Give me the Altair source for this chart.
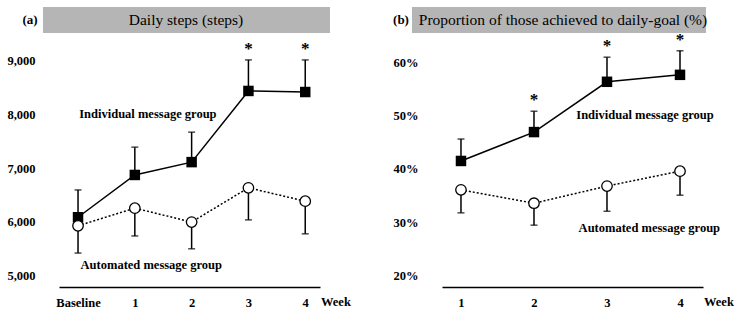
import altair as alt
import pandas as pd

FONT = "Liberation Serif"

# ---- Panel (a): daily steps ----
weeks_a = [0, 1, 2, 3, 4]
a_ind_mean = [6080, 6870, 7110, 8440, 8420]
a_ind_upper = [6590, 7390, 7670, 9020, 9020]
a_auto_mean = [5920, 6250, 5990, 6630, 6380]
a_auto_lower = [5410, 5730, 5490, 6030, 5770]
a_sig = [False, False, False, True, True]
a_ticks = [5000, 6000, 7000, 8000, 9000]

# ---- Panel (b): proportion achieving daily goal (%) ----
weeks_b = [1, 2, 3, 4]
b_ind_mean = [41.5, 46.9, 56.3, 57.6]
b_ind_upper = [45.6, 50.8, 60.9, 62.1]
b_auto_mean = [36.1, 33.6, 36.8, 39.6]
b_auto_lower = [31.8, 29.5, 32.1, 35.1]
b_sig = [False, True, True, True]
b_ticks = [20, 30, 40, 50, 60]

W, H = 261, 248


def panel(weeks, ind_mean, ind_upper, auto_mean, auto_lower, sig,
          ydomain, yticks, ylabel_expr, xdomain, xlabel_expr,
          title, tag, box, title_cx, tag_x, ind_pos, auto_pos):
    ind = pd.DataFrame({"week": weeks, "mean": ind_mean, "bound": ind_upper, "sig": sig})
    auto = pd.DataFrame({"week": weeks, "mean": auto_mean, "bound": auto_lower})

    xs = alt.Scale(domain=xdomain, nice=False, zero=False)
    ys = alt.Scale(domain=ydomain, nice=False, zero=False)
    xax = alt.Axis(values=weeks, labelExpr=xlabel_expr, title=None, domain=True,
                   domainColor="black", domainWidth=1.5, ticks=False, tickSize=0,
                   labelPadding=9, grid=False)
    yax = alt.Axis(values=yticks, labelExpr=ylabel_expr, title=None, domain=False,
                   ticks=False, tickSize=0, labelPadding=24, grid=False)

    X = alt.X("week:Q", scale=xs, axis=xax)
    Y = alt.Y("mean:Q", scale=ys, axis=yax)

    ind_base = alt.Chart(ind)
    auto_base = alt.Chart(auto)

    ind_err = ind_base.mark_rule(color="black", strokeWidth=1.5).encode(
        x=alt.X("week:Q", scale=xs), y=alt.Y("mean:Q", scale=ys), y2="bound:Q")
    ind_cap = ind_base.mark_tick(color="black", orient="horizontal", size=7, thickness=1.5).encode(
        x=alt.X("week:Q", scale=xs), y=alt.Y("bound:Q", scale=ys))
    auto_err = auto_base.mark_rule(color="black", strokeWidth=1.5).encode(
        x=alt.X("week:Q", scale=xs), y=alt.Y("mean:Q", scale=ys), y2="bound:Q")
    auto_cap = auto_base.mark_tick(color="black", orient="horizontal", size=7, thickness=1.5).encode(
        x=alt.X("week:Q", scale=xs), y=alt.Y("bound:Q", scale=ys))

    ind_line = ind_base.mark_line(color="black", strokeWidth=1.5).encode(x=X, y=Y)
    auto_line = auto_base.mark_line(color="black", strokeWidth=1.5, strokeDash=[2, 2]).encode(
        x=alt.X("week:Q", scale=xs), y=alt.Y("mean:Q", scale=ys))
    ind_pts = ind_base.mark_point(shape="square", filled=True, color="black", size=110, opacity=1).encode(
        x=alt.X("week:Q", scale=xs), y=alt.Y("mean:Q", scale=ys))
    auto_pts = auto_base.mark_point(shape="circle", filled=True, fill="white", stroke="black",
                                    strokeWidth=1.3, size=110, opacity=1).encode(
        x=alt.X("week:Q", scale=xs), y=alt.Y("mean:Q", scale=ys))

    stars = ind_base.transform_filter("datum.sig").mark_text(
        text="*", font=FONT, fontSize=17, fontWeight="bold", dy=-11, baseline="middle", color="black"
    ).encode(x=alt.X("week:Q", scale=xs), y=alt.Y("bound:Q", scale=ys))

    labels = alt.Chart(pd.DataFrame({
        "lx": [ind_pos[0], auto_pos[0]],
        "ly": [ind_pos[1], auto_pos[1]],
        "txt": ["Individual  message  group", "Automated  message  group"],
    })).mark_text(font=FONT, fontSize=12.5, fontWeight="bold", baseline="middle", color="black").encode(
        x=alt.X("lx:Q", scale=xs), y=alt.Y("ly:Q", scale=ys), text="txt:N")

    week_lab = alt.Chart(pd.DataFrame({"lx": [xdomain[1]], "t": ["Week"]})).mark_text(
        font=FONT, fontSize=12.5, fontWeight="bold", align="left", baseline="middle", dx=1, color="black"
    ).encode(x=alt.X("lx:Q", scale=xs), y=alt.value(H + 15), text="t:N")

    tb = pd.DataFrame({"t": [title], "tag": [tag]})
    box_mark = alt.Chart(tb).mark_rect(color="#b5b5b5").encode(
        x=alt.value(box[0]), x2=alt.value(box[1]), y=alt.value(-32), y2=alt.value(-6))
    title_txt = alt.Chart(tb).mark_text(font=FONT, fontSize=15.5, color="black",
                                         baseline="middle").encode(
        x=alt.value(title_cx), y=alt.value(-19), text="t:N")
    tag_txt = alt.Chart(tb).mark_text(font=FONT, fontSize=13, fontWeight="bold", color="black",
                                       baseline="middle").encode(
        x=alt.value(tag_x), y=alt.value(-19), text="tag:N")

    return alt.layer(
        ind_line, auto_line, ind_err, ind_cap, auto_err, auto_cap, ind_pts, auto_pts,
        stars, labels, week_lab, box_mark, title_txt, tag_txt
    ).properties(width=W, height=H)


pa = panel(weeks_a, a_ind_mean, a_ind_upper, a_auto_mean, a_auto_lower, a_sig,
           [4776, 9411], a_ticks, "format(datum.value, ',')", [-0.335, 4.26],
           "datum.value == 0 ? 'Baseline' : datum.value",
           "Daily  steps (steps)", "(a)", (-16, 271), 127, -29,
           (1.23, 8000), (1.29, 5187))

pb = panel(weeks_b, b_ind_mean, b_ind_upper, b_auto_mean, b_auto_lower, b_sig,
           [17.94, 64.3], b_ticks, "datum.value + '%'", [0.74, 4.315],
           "datum.value",
           "Proportion of those achieved to daily-goal  (%)", "(b)", (-30, 264), 121, -41,
           (3.52, 50), (3.58, 29.0))

chart = alt.hconcat(pa, pb, spacing=122, bounds="flush").properties(
    padding={"left": 6, "top": 7, "right": 5, "bottom": 5},
).configure_view(stroke=None).configure_axis(
    labelFont=FONT, labelFontSize=12.5, labelFontWeight="bold", labelColor="black"
)

chart.save("out.html", embed_options={"renderer": "svg", "actions": False})
